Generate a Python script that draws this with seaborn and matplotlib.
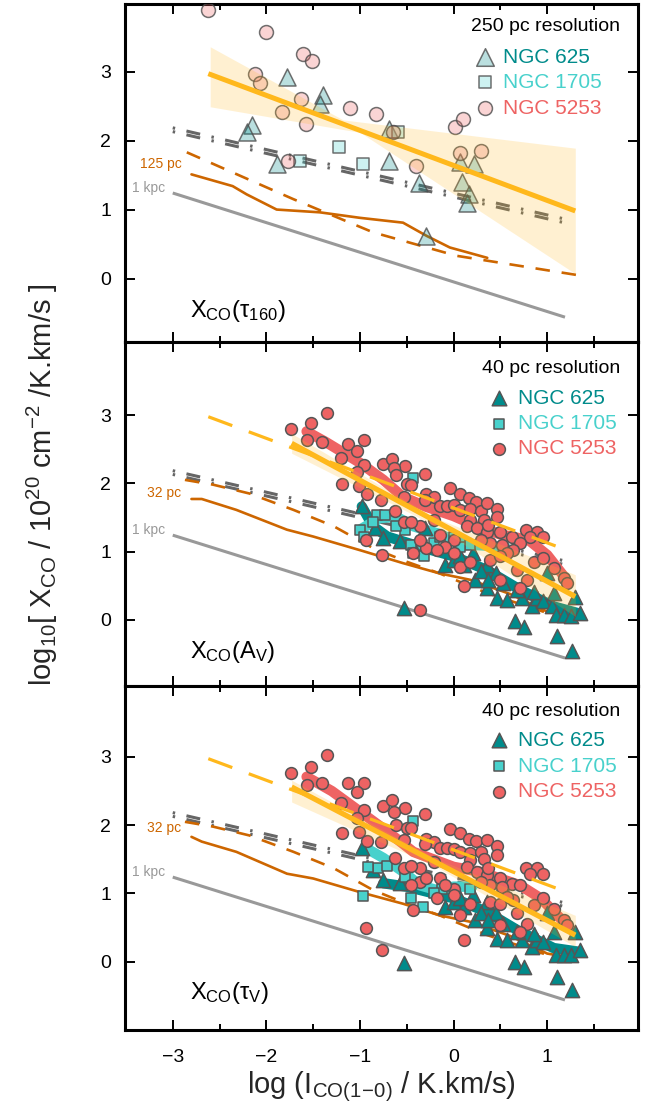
import numpy as np
import matplotlib
matplotlib.use("Agg")
import matplotlib.pyplot as plt
import seaborn as sns
from matplotlib.ticker import NullLocator

sns.set_theme(style="ticks")
plt.rcParams["font.family"] = ["Liberation Sans", "DejaVu Sans"]
plt.rcParams["mathtext.fontset"] = "custom"
plt.rcParams["mathtext.rm"] = "Liberation Sans"
plt.rcParams["mathtext.it"] = "Liberation Sans:italic"
plt.rcParams["mathtext.bf"] = "Liberation Sans:bold"

# ---------------- colours ----------------
TEAL = "#008B8B"
TURQ = "#48D1CC"
RED = "#EE6363"
ORANGE = "#CD6600"
GOLD = "#FFB81C"
GREY_L = "#999999"
GREY_D = "#666666"
EDGE = "#555555"

# ---------------- reference lines (all panels) ----------------
kpc_x = [-3.0, 1.19]
kpc_y = [1.24, -0.56]
ref_dd_x = [-3.0, 1.18]
ref_dd_y = [2.13, 0.81]

# orange resolution tracks
top_dash_x = [-2.85, -1.71, -0.86, 0.03, 1.37]
top_dash_y = [1.83, 1.15, 0.67, 0.33, 0.04]
top_solid_x = [-2.80, -2.36, -2.21, -1.89, -1.43, -1.0, -0.54, -0.29, -0.04, 0.36]
top_solid_y = [1.51, 1.34, 1.22, 1.00, 0.96, 0.88, 0.81, 0.62, 0.45, 0.30]
mid_dash_x = [-2.87, -2.57, -2.18, -1.71, -1.28, -0.86, -0.50, -0.15, 0.36, 1.0]
mid_dash_y = [2.05, 1.98, 1.85, 1.61, 1.37, 1.05, 0.85, 0.68, 0.39, 0.10]
mid_solid_x = [-2.80, -2.69, -2.32, -1.78, -1.50, -1.0, -0.54, -0.15, 0.18, 0.6, 1.0, 1.3]
mid_solid_y = [1.77, 1.77, 1.61, 1.32, 1.22, 1.02, 0.83, 0.68, 0.585, 0.38, 0.12, 0.05]
bot_solid_y = [1.83, 1.76, 1.61, 1.29, 1.22, 1.02, 0.85, 0.68, 0.585, 0.38, 0.12, 0.05]

# ---------------- top panel (250 pc) data ----------------
top_c = np.array([(-2.62, 3.89), (-2.0, 3.58), (-1.61, 3.25), (-1.51, 3.15), (-2.12, 2.96),
                  (-2.07, 2.84), (-1.63, 2.60), (-1.83, 2.42), (-1.58, 2.24), (-1.11, 2.47),
                  (-0.83, 2.39), (-0.65, 2.13), (-1.77, 1.70), (-0.40, 1.63), (0.02, 2.19),
                  (0.10, 2.31), (0.07, 1.82), (0.29, 1.85)])
top_t = np.array([(-1.78, 2.92), (-1.39, 2.66), (-1.43, 2.53), (-2.15, 2.23), (-2.21, 2.13),
                  (-1.89, 1.66), (-0.69, 2.17), (-0.69, 1.70), (-0.37, 1.38), (-0.29, 0.62),
                  (0.07, 1.69), (0.22, 1.66), (0.09, 1.40), (0.16, 1.23), (0.14, 1.10)])
top_s = np.array([(-1.64, 1.70), (-1.22, 1.91), (-0.97, 1.66), (-0.59, 2.12)])
top_fit_x = [-2.62, 1.30]
top_fit_y = [2.97, 0.98]
top_band_x = [-2.60, -1.18, -1.0, 1.30]
top_band_hi = [3.36, 2.30, 2.27, 1.89]
top_band_lo = [2.49, 2.16, 2.12, 0.07]

# ---------------- middle panel (A_V, 40 pc) data ----------------
mid_c = np.array([(-1.35, 3.03), (-1.74, 2.80), (-1.52, 2.88), (-1.57, 2.63), (-1.41, 2.61),
                  (-1.13, 2.58), (-0.96, 2.63), (-1.03, 2.47), (-1.20, 2.37), (-0.96, 2.27),
                  (-0.75, 2.28), (-0.66, 2.35), (-0.52, 2.25), (-0.64, 2.22), (-0.61, 2.12),
                  (-0.30, 2.14), (-1.03, 2.17), (-1.19, 1.99), (-1.01, 1.96), (-0.92, 1.85),
                  (-0.50, 1.99), (-0.46, 1.98), (-0.53, 1.80), (-0.78, 1.76), (-0.63, 1.59),
                  (-0.53, 1.44), (-0.94, 1.17), (-0.76, 0.95), (-0.43, 0.98), (-0.29, 1.05),
                  (-0.04, 1.93), (0.07, 1.85), (0.16, 1.78), (0.24, 1.73), (-0.29, 1.84),
                  (-0.21, 1.80), (-0.31, 1.76), (-0.14, 1.66), (-0.07, 1.66), (0.00, 1.68),
                  (0.07, 1.61), (0.18, 1.63), (0.29, 1.59), (0.36, 1.71), (0.46, 1.63),
                  (0.46, 1.51), (0.32, 1.46), (0.18, 1.46), (0.14, 1.37), (0.25, 1.34),
                  (0.36, 1.28), (0.37, 1.39), (0.50, 1.29), (0.62, 1.22), (0.77, 1.32),
                  (0.89, 1.29), (0.96, 1.22), (0.82, 1.22), (0.71, 1.12), (0.64, 1.02),
                  (0.52, 1.10), (0.39, 1.12), (0.29, 1.17), (0.00, 1.17), (-0.14, 1.24),
                  (-0.09, 1.07), (0.00, 0.98), (-0.18, 1.02), (-0.36, 1.17), (-0.36, 1.37),
                  (-0.21, 1.46), (-0.46, 1.44), (0.07, 0.78), (0.11, 0.49), (0.86, 0.85),
                  (0.96, 0.90), (1.07, 0.76), (1.18, 0.61), (1.21, 0.54), (0.68, 0.73),
                  (0.78, 0.59), (0.71, 0.46), (0.50, 0.59), (0.57, 0.98), (0.39, 0.88),
                  (0.18, 0.85), (0.50, 0.93), (-0.36, 0.15)])
mid_t = np.array([(-0.98, 1.66), (-0.84, 1.34), (-0.75, 1.20), (-0.57, 1.15), (-0.30, 1.34),
                  (-0.53, 0.17), (-0.09, 0.80), (0.00, 0.88), (0.11, 0.80), (0.23, 0.59),
                  (0.36, 0.46), (0.46, 0.32), (0.57, 0.29), (0.66, -0.02), (0.75, -0.10),
                  (0.73, 0.32), (0.84, 0.20), (0.89, 0.32), (0.96, 0.27), (1.05, 0.20),
                  (1.09, 0.07), (1.18, 0.07), (1.25, 0.05), (1.35, 0.10), (1.30, 0.34),
                  (1.11, -0.24), (1.27, -0.46), (0.36, 0.80), (0.45, 0.68), (0.53, 0.54),
                  (0.29, 0.71), (0.86, 0.41), (1.07, 0.39), (0.37, 0.59), (0.68, 0.44),
                  (0.21, 0.98), (0.07, 0.93), (1.00, 0.68)])
mid_s = np.array([(-0.43, 2.08), (-0.82, 1.54), (-0.73, 1.54), (-1.00, 1.32), (-0.96, 1.22),
                  (-0.52, 1.32), (-0.46, 1.10), (-0.32, 0.93), (-0.34, 1.10), (-0.43, 0.98),
                  (-0.21, 1.12), (-0.14, 1.22), (0.00, 1.22), (0.18, 1.10), (0.07, 1.07),
                  (-0.61, 1.37), (-0.86, 1.44)])
mid_red_x = [-1.57, -1.36, -1.0, -0.75, -0.54, -0.3, 0.0, 0.2, 0.5, 0.8, 1.0, 1.2]
mid_red_y = [2.76, 2.60, 2.30, 2.05, 1.80, 1.66, 1.52, 1.40, 1.25, 1.17, 0.95, 0.60]
mid_teal_x = [-0.98, -0.86, -0.71, -0.36, 0.0, 0.355, 0.71, 1.07, 1.32]
mid_teal_y = [1.66, 1.37, 1.22, 1.07, 0.93, 0.73, 0.44, 0.195, 0.10]
mid_turq_x = [-1.0, -0.79, -0.61, -0.43, -0.18, 0.0, 0.18, 0.55]
mid_turq_y = [1.32, 1.49, 1.51, 1.37, 1.27, 1.17, 1.10, 1.07]
mid_fit_x = [-1.73, 1.30]
mid_fit_y = [2.585, 0.34]
mid_band_x = [-1.73, -0.2, 1.30]
mid_band_hi = [2.73, 1.50, 0.66]
mid_band_lo = [2.44, 1.38, 0.05]
prior_fit_x = [-2.62, 1.25]
prior_fit_y = [2.975, 1.00]

# ---------------- bottom panel (tau_V, 40 pc) data ----------------
bot_c = np.array([(-1.35, 3.03), (-1.74, 2.76), (-1.52, 2.85), (-1.57, 2.59), (-1.41, 2.62),
                  (-1.13, 2.62), (-0.96, 2.62), (-1.03, 2.49), (-1.20, 2.32), (-0.96, 2.22),
                  (-0.75, 2.28), (-0.66, 2.37), (-0.52, 2.25), (-0.64, 2.20), (-0.61, 2.01),
                  (-0.30, 2.16), (-1.03, 2.10), (-1.19, 1.88), (-1.01, 1.90), (-0.93, 1.77),
                  (-0.50, 1.96), (-0.46, 1.96), (-0.53, 1.78), (-0.78, 1.76), (-0.63, 1.52),
                  (-0.53, 1.37), (-0.94, 0.49), (-0.76, 0.17), (-0.43, 0.76), (-0.04, 1.95),
                  (0.07, 1.88), (0.16, 1.80), (0.24, 1.77), (-0.29, 1.80), (-0.21, 1.76),
                  (-0.31, 1.72), (-0.14, 1.67), (-0.07, 1.66), (0.00, 1.65), (0.07, 1.61),
                  (0.18, 1.59), (0.29, 1.61), (0.36, 1.78), (0.46, 1.70), (0.46, 1.56),
                  (0.32, 1.50), (0.18, 1.49), (0.14, 1.39), (0.25, 1.32), (0.36, 1.27),
                  (0.37, 1.38), (0.50, 1.22), (0.62, 1.14), (0.77, 1.38), (0.89, 1.37),
                  (0.96, 1.29), (0.82, 1.29), (0.71, 1.12), (0.64, 0.90), (0.52, 1.10),
                  (0.39, 1.12), (0.29, 1.17), (0.00, 1.07), (-0.14, 1.22), (-0.09, 1.12),
                  (0.00, 0.98), (-0.18, 0.93), (-0.36, 1.17), (-0.36, 1.37), (-0.21, 1.46),
                  (-0.46, 1.41), (0.07, 0.68), (0.11, 0.32), (0.86, 0.83), (0.96, 0.93),
                  (1.07, 0.78), (1.18, 0.61), (1.21, 0.54), (0.68, 0.71), (0.78, 0.56),
                  (0.71, 0.44), (0.50, 0.54), (0.57, 0.95), (0.39, 0.88), (0.18, 0.85),
                  (0.50, 0.85), (-0.29, 1.22), (-0.46, 1.12)])
bot_t = np.array([(-0.98, 1.66), (-0.86, 1.34), (-0.75, 1.20), (-0.57, 1.15), (-0.53, -0.02),
                  (-0.09, 0.80), (0.00, 0.88), (0.11, 0.80), (0.23, 0.61), (0.36, 0.49),
                  (0.46, 0.34), (0.57, 0.32), (0.66, 0.00), (0.75, -0.07), (0.73, 0.32),
                  (0.84, 0.22), (0.89, 0.32), (0.96, 0.29), (1.09, 0.10), (1.18, 0.10),
                  (1.25, 0.10), (1.35, 0.17), (1.30, 0.44), (1.11, -0.22), (1.27, -0.41),
                  (0.36, 0.88), (0.45, 0.71), (0.53, 0.56), (0.29, 0.71), (0.86, 0.41),
                  (1.07, 0.44), (0.37, 0.61), (0.68, 0.44), (0.21, 0.98), (0.07, 0.93),
                  (1.00, 0.71)])
bot_s = np.array([(-0.43, 2.06), (-0.81, 1.38), (-0.71, 1.41), (-0.52, 1.24), (-0.97, 0.97),
                  (-0.46, 0.93), (-0.33, 0.80), (-0.12, 1.07), (0.18, 1.07), (-0.21, 1.00),
                  (-0.91, 1.39)])
bot_red_x = [-1.57, -1.3, -1.0, -0.7, -0.43, 0.0, 0.28, 0.71, 0.93, 1.21]
bot_red_y = [2.71, 2.50, 2.20, 1.90, 1.61, 1.39, 1.32, 1.12, 0.93, 0.54]
bot_teal_x = [-0.75, -0.5, 0.0, 0.355, 0.71, 1.07, 1.32]
bot_teal_y = [1.15, 1.10, 0.93, 0.73, 0.44, 0.20, 0.15]
bot_turq_x = [-0.93, -0.75, -0.54, -0.36, -0.18, 0.0, 0.2]
bot_turq_y = [1.66, 1.52, 1.32, 1.12, 1.05, 1.10, 1.10]
bot_fit_x = [-1.73, 1.30]
bot_fit_y = [2.56, 0.39]
bot_band_x = [-1.73, -0.2, 1.30]
bot_band_hi = [2.66, 1.52, 0.68]
bot_band_lo = [2.34, 1.40, 0.22]

galaxies = ["NGC 625", "NGC 1705", "NGC 5253"]
gal_colors = [TEAL, TURQ, RED]
gal_markers = ["^", "s", "o"]

# ---------------- figure ----------------
W, H = 658, 1117
fig = plt.figure(figsize=(W / 100, H / 100), dpi=100)


def add_ax(top_px, bot_px):
    return fig.add_axes([125 / W, 1 - bot_px / H, (638 - 125) / W, (bot_px - top_px) / H])


ax_top = add_ax(4, 342)
ax_mid = add_ax(342, 686)
ax_bot = add_ax(686, 1030)

ylims = [(-0.92, 3.98), (-0.97, 4.07), (-1.0, 4.04)]
for ax, yl in zip([ax_top, ax_mid, ax_bot], ylims):
    ax.set_xlim(-3.51, 1.97)
    ax.set_ylim(*yl)
    ax.set_xticks([-3, -2, -1, 0, 1])
    ax.set_xticks(np.arange(-3.5, 2.0, 0.5), minor=True)
    ax.set_yticks([0, 1, 2, 3])
    ax.yaxis.set_minor_locator(NullLocator())
    ax.tick_params(which="both", direction="in", top=True, right=True,
                   width=1.4, color="black", labelcolor="black")
    ax.tick_params(which="major", length=7, labelsize=14)
    ax.tick_params(which="minor", length=4)
    ax.tick_params(axis="x", pad=14)
    ax.tick_params(axis="y", pad=10)
    for sp in ax.spines.values():
        sp.set_linewidth(2.2)
        sp.set_color("black")
    ax.set_facecolor("white")
    # common reference lines
    ax.plot(kpc_x, kpc_y, color=GREY_L, lw=2.2, solid_capstyle="butt", zorder=2)
    for off in (0.0, 0.055):
        ax.plot(ref_dd_x, np.array(ref_dd_y) + off, color=GREY_D, lw=2.2,
                linestyle=(0, (0.8, 3.8, 4.6, 3.8)), zorder=2)
    ax.text(-3.085, 1.31, "1 kpc", color=GREY_L, fontsize=10, ha="right", va="center")

ax_top.tick_params(labelbottom=False)
ax_mid.tick_params(labelbottom=False)

# orange tracks
ax_top.plot(top_dash_x, top_dash_y, color=ORANGE, lw=1.9, linestyle=(0, (5.5, 4.5)), zorder=2)
ax_top.plot(top_solid_x, top_solid_y, color=ORANGE, lw=1.9, zorder=2)
ax_top.text(-2.907, 1.66, "125 pc", color=ORANGE, fontsize=10, ha="right", va="center")
for ax, sy, ly in [(ax_mid, mid_solid_y, 1.86), (ax_bot, bot_solid_y, 1.96)]:
    ax.plot(mid_dash_x, mid_dash_y, color=ORANGE, lw=1.9, linestyle=(0, (5.5, 4.5)), zorder=2)
    ax.plot(mid_solid_x, sy, color=ORANGE, lw=1.9, zorder=2)
    ax.text(-2.91, ly, "32 pc", color=ORANGE, fontsize=10, ha="right", va="center")

# ---------------- top panel points ----------------
for arr, mk, col, s in [(top_t, "^", TEAL, 150), (top_s, "s", TURQ, 85), (top_c, "o", RED, 100)]:
    sns.scatterplot(x=arr[:, 0], y=arr[:, 1], ax=ax_top, marker=mk, s=s,
                    color=matplotlib.colors.to_rgba(col, 0.27),
                    edgecolor=(0.3, 0.3, 0.3, 0.8), linewidth=1.1, zorder=4, legend=False)
ax_top.fill_between(top_band_x, top_band_lo, top_band_hi, color=GOLD, alpha=0.2,
                    linewidth=0, zorder=5)
ax_top.plot(top_fit_x, top_fit_y, color=GOLD, lw=3.6, solid_capstyle="butt", zorder=6)

# ---------------- middle / bottom panels ----------------
panels = [
    (ax_mid, mid_c, mid_t, mid_s, (mid_red_x, mid_red_y), (mid_teal_x, mid_teal_y),
     (mid_turq_x, mid_turq_y), (mid_fit_x, mid_fit_y), (mid_band_x, mid_band_lo, mid_band_hi)),
    (ax_bot, bot_c, bot_t, bot_s, (bot_red_x, bot_red_y), (bot_teal_x, bot_teal_y),
     (bot_turq_x, bot_turq_y), (bot_fit_x, bot_fit_y), (bot_band_x, bot_band_lo, bot_band_hi)),
]
for ax, cc, tt, ss, red, teal, turq, fit, band in panels:
    for (lx, ly), col in [(red, RED), (teal, TEAL), (turq, TURQ)]:
        sns.lineplot(x=lx, y=ly, ax=ax, color=col, lw=7.5, sort=False, estimator=None,
                     zorder=3, legend=False)
    sns.scatterplot(x=tt[:, 0], y=tt[:, 1], ax=ax, marker="^", s=105, color=TEAL,
                    edgecolor=EDGE, linewidth=1.1, zorder=4, legend=False)
    sns.scatterplot(x=ss[:, 0], y=ss[:, 1], ax=ax, marker="s", s=55, color=TURQ,
                    edgecolor=EDGE, linewidth=1.1, zorder=4, legend=False)
    sns.scatterplot(x=cc[:, 0], y=cc[:, 1], ax=ax, marker="o", s=72, color=RED,
                    edgecolor=EDGE, linewidth=1.1, zorder=4, legend=False)
    ax.fill_between(band[0], band[1], band[2], color=GOLD, alpha=0.2, linewidth=0, zorder=5)
    ax.plot(fit[0], fit[1], color=GOLD, lw=3.8, solid_capstyle="butt", zorder=6)
    ax.plot(prior_fit_x, prior_fit_y, color=GOLD, lw=2.3, linestyle=(0, (8, 5.5)), zorder=6)

# ---------------- legends / annotations ----------------
leg_specs = [
    (ax_top, "250 pc resolution", 0.932, 0.702, 0.737, [0.843, 0.769, 0.692], True,
     r"X$_{\rm CO}$(τ$_{\rm 160}$)", 0.092),
    (ax_mid, "40 pc resolution", 0.924, 0.729, 0.766, [0.837, 0.762, 0.689], False,
     r"X$_{\rm CO}$(A$_{\rm V}$)", 0.099),
    (ax_bot, "40 pc resolution", 0.927, 0.729, 0.766, [0.843, 0.767, 0.692], False,
     r"X$_{\rm CO}$(τ$_{\rm V}$)", 0.108),
]
for ax, title, ty, mx, tx, rows, light, plabel, py in leg_specs:
    ax.text(0.965, ty, title, transform=ax.transAxes, ha="right", va="center",
            fontsize=14, color="black")
    for name, col, mk, ry in zip(galaxies, gal_colors, gal_markers, rows):
        if light:
            size = {"^": 160, "s": 85, "o": 100}[mk]
            fc = matplotlib.colors.to_rgba(col, 0.27)
            ec = (0.3, 0.3, 0.3, 0.8)
        else:
            size = {"^": 110, "s": 55, "o": 72}[mk]
            fc = col
            ec = EDGE
        ax.scatter([mx], [ry], transform=ax.transAxes, marker=mk, s=size, color=fc,
                   edgecolor=ec, linewidth=1.1, zorder=8, clip_on=False)
        ax.text(tx, ry, name, transform=ax.transAxes, ha="left", va="center",
                fontsize=15, color=col)
    ax.text(0.127, py, plabel, transform=ax.transAxes, ha="left", va="center",
            fontsize=17, color="black")

ax_bot.set_xlabel(r"log (I$_{\rm CO(1\!-\!0)}$ / K.km/s)", fontsize=21, labelpad=2)
fig.text(42 / W, 1 - 485 / H, r"log$_{10}$[ X$_{\rm CO}$ / 10$^{20}$ cm$^{-2}$ /K.km/s ]",
         rotation=90, ha="center", va="center", fontsize=21)

fig.savefig("out.png", dpi=100, facecolor="white")
